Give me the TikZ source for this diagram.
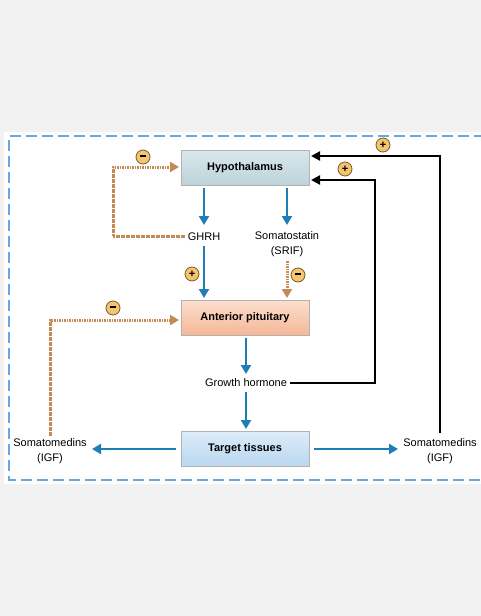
\documentclass[tikz,border=0pt]{standalone}
\usepackage{fontspec}
\setmainfont{Liberation Sans}
\usetikzlibrary{arrows.meta}
\definecolor{bgray}{HTML}{F2F2F2}
\definecolor{dashblue}{HTML}{6AA6E0}
\definecolor{arrblue}{HTML}{1F7DB8}
\definecolor{orng}{HTML}{C48A55}
\definecolor{signfill}{HTML}{F5C46E}
\definecolor{signdraw}{HTML}{7A5A2A}
\definecolor{hypTop}{HTML}{DAE8EC}
\definecolor{hypBot}{HTML}{BCD3D9}
\definecolor{antTop}{HTML}{FCDFCE}
\definecolor{antBot}{HTML}{F6B797}
\definecolor{tgtTop}{HTML}{DCECF9}
\definecolor{tgtBot}{HTML}{BAD7F0}
\tikzset{
  x=1pt, y=-1pt,
  every node/.style={font=\fontsize{11}{14.5}\selectfont, inner sep=0pt},
  organ/.style={draw=gray!60, line width=0.6pt, minimum width=128pt, minimum height=35pt, font=\fontsize{11}{13}\selectfont\bfseries},
  txt/.style={align=center},
  bluearr/.style={draw=arrblue, line width=2.8pt, -{Triangle[length=9pt,width=10pt]}},
  orngarr/.style={draw=orng, line width=3pt, dash pattern=on 1.6pt off 0.9pt, -{Triangle[length=9pt,width=10pt]}},
  blkarr/.style={draw=black, line width=2pt, -{Triangle[length=9pt,width=9pt]}},
  sign/.style={circle, draw=signdraw, line width=0.8pt, fill=signfill, minimum size=14pt, font=\fontsize{11}{11}\selectfont\bfseries}
}
\newcommand{\minussign}{\rule[2.6pt]{6pt}{1.6pt}}
\begin{document}
\begin{tikzpicture}
\useasboundingbox (0,0) rectangle (481,616);
\fill[bgray] (0,0) rectangle (481,616);
\fill[white] (4,132) rectangle (481,484);
\draw[dashblue, line width=1.6pt, dash pattern=on 11pt off 5pt] (485,136) -- (9,136) -- (9,480) -- (485,480);

% boxes
\node[organ, top color=hypTop, bottom color=hypBot] (hyp) at (245,167.5) {Hypothalamus};
\node[organ, top color=antTop, bottom color=antBot] (ant) at (245,317.5) {Anterior pituitary};
\node[organ, top color=tgtTop, bottom color=tgtBot] (tgt) at (245,449) {Target tissues};

% texts
\node[txt] (ghrh) at (204,237) {GHRH};
\node[txt] (srif) at (287,244) {Somatostatin\\(SRIF)};
\node[txt] (gh) at (246,383) {Growth hormone};
\node[txt] (smL) at (50,451) {Somatomedins\\(IGF)};
\node[txt] (smR) at (440,451) {Somatomedins\\(IGF)};

% coordinates
\coordinate (hypG) at (204,188);
\coordinate (hypS) at (287,188);
\coordinate (ghrhT) at (204,225);
\coordinate (srifT) at (287,225);
\coordinate (ghrhB) at (204,246);
\coordinate (srifB) at (287,261);
\coordinate (antG) at (204,298);
\coordinate (antS) at (287,298);
\coordinate (antB) at (246,338);
\coordinate (ghT) at (246,374);
\coordinate (ghB) at (246,392);
\coordinate (tgtT) at (246,429);
\coordinate (c1) at (113,236);
\coordinate (c2) at (113,167);
\coordinate (c3) at (50,436);
\coordinate (c4) at (50,320);
\coordinate (c5) at (375,383);
\coordinate (c6) at (375,180);
\coordinate (c7) at (440,433);
\coordinate (c8) at (440,156);
\coordinate (lL) at (176,449);
\coordinate (lR) at (92,449);
\coordinate (rL) at (314,449);
\coordinate (rR) at (398,449);

% blue arrows
\draw[bluearr] (hypG) -- (ghrhT);
\draw[bluearr] (hypS) -- (srifT);
\draw[bluearr] (ghrhB) -- (antG);
\draw[bluearr] (antB) -- (ghT);
\draw[bluearr] (ghB) -- (tgtT);
\draw[bluearr] (lL) -- (lR);
\draw[bluearr] (rL) -- (rR);

% orange dashed
\draw[orngarr] (srifB) -- (antS);
\draw[orngarr] (185,236) -- (c1) -- (c2) -- (179,167);
\draw[orngarr] (c3) -- (c4) -- (179,320);

% black feedback
\draw[blkarr] (290,383) -- (c5) -- (c6) -- (311,180);
\draw[blkarr] (c7) -- (c8) -- (311,156);

% signs
\node[sign] (s1) at (143,157) {\minussign};
\node[sign] (s2) at (192,274) {+};
\node[sign] (s3) at (298,275) {\minussign};
\node[sign] (s4) at (113,308) {\minussign};
\node[sign] (s5) at (345,169) {+};
\node[sign] (s6) at (383,145) {+};
\end{tikzpicture}
\end{document}
